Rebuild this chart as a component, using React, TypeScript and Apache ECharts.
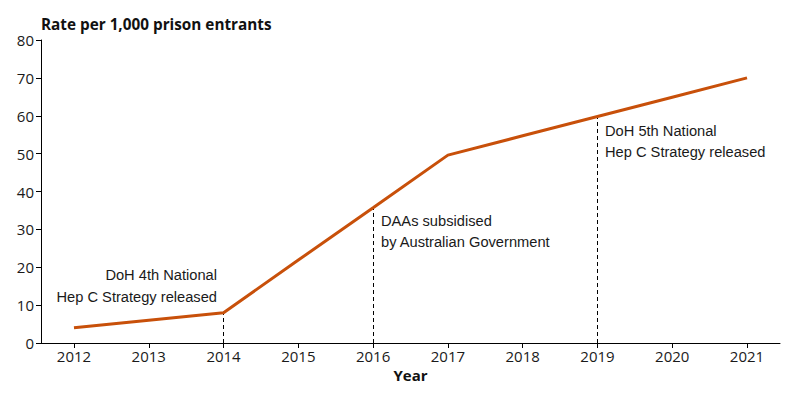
import React, { useEffect, useRef } from "react";
import * as echarts from "echarts";

const years = [2012, 2013, 2014, 2015, 2016, 2017, 2018, 2019, 2020, 2021];
const rates = [4, 6, 8, 21.9, 35.7, 49.6, 54.7, 59.8, 64.9, 70];
const yTicks = [0, 10, 20, 30, 40, 50, 60, 70, 80];
const events = [
  { year: 2014, value: 8, lines: ["DoH 4th National", "Hep C Strategy released"] },
  { year: 2016, value: 35.7, lines: ["DAAs subsidised", "by Australian Government"] },
  { year: 2019, value: 59.8, lines: ["DoH 5th National", "Hep C Strategy released"] },
];

export default function App() {
  const ref = useRef<HTMLDivElement>(null);
  useEffect(() => {
    if (!ref.current) return;
    const chart = echarts.init(ref.current, null, { renderer: "svg" });
    const tickFont = { fontFamily: "Open Sans", fontSize: 15, color: "#1a1a1a" };
    const annFont = { fontFamily: "Liberation Sans", fontSize: 14.67, fill: "#1a1a1a" };
    chart.setOption({
      animation: false,
      grid: { left: 41, right: 20, top: 40, bottom: 57, containLabel: false },
      xAxis: {
        type: "value",
        min: 2011.559,
        max: 2021.441,
        name: "Year",
        nameLocation: "middle",
        nameGap: 22,
        nameTextStyle: { fontFamily: "Open Sans", fontSize: 15, fontWeight: "bold", color: "#111", verticalAlign: "top" },
        splitLine: { show: false },
        axisLine: { lineStyle: { color: "#000", width: 1 } },
        axisTick: { show: true, length: 5, customValues: years, lineStyle: { color: "#000" } },
        axisLabel: { ...tickFont, margin: 5, customValues: years, formatter: (v: number) => String(v) },
      },
      yAxis: {
        type: "value",
        min: 0,
        max: 80,
        interval: 10,
        name: "Rate per 1,000 prison entrants",
        nameLocation: "end",
        nameGap: 9,
        nameTextStyle: { fontFamily: "Open Sans", fontSize: 15.3, fontWeight: "bold", color: "#111", align: "left", verticalAlign: "bottom" },
        splitLine: { show: false },
        axisLine: { show: true, lineStyle: { color: "#000", width: 1 } },
        axisTick: { show: true, length: 5, lineStyle: { color: "#000" } },
        axisLabel: { ...tickFont, margin: 7, customValues: yTicks },
      },
      series: [
        {
          type: "line",
          data: years.map((y, i) => [y, rates[i]]),
          symbol: "none",
          lineStyle: { color: "#C8500A", width: 3 },
          markLine: {
            silent: true,
            symbol: "none",
            label: { show: false },
            lineStyle: { color: "#000", type: [4, 3], width: 1 },
            data: events.map((e) => [
              { coord: [e.year, 0] },
              { coord: [e.year, e.value] },
            ]),
            z: 1,
          },
          z: 3,
        },
      ],
      graphic: [
        {
          type: "text",
          x: 217,
          y: 264,
          style: { ...annFont, text: events[0].lines.join("\n"), lineHeight: 22, align: "right", verticalAlign: "top" },
        },
        {
          type: "text",
          x: 381,
          y: 210,
          style: { ...annFont, text: events[1].lines.join("\n"), lineHeight: 21, verticalAlign: "top" },
        },
        {
          type: "text",
          x: 605,
          y: 120,
          style: { ...annFont, text: events[2].lines.join("\n"), lineHeight: 21, verticalAlign: "top" },
        },
      ],
    });
    return () => chart.dispose();
  }, []);
  return <div ref={ref} style={{ width: 800, height: 400, margin: -8 }} />;
}
